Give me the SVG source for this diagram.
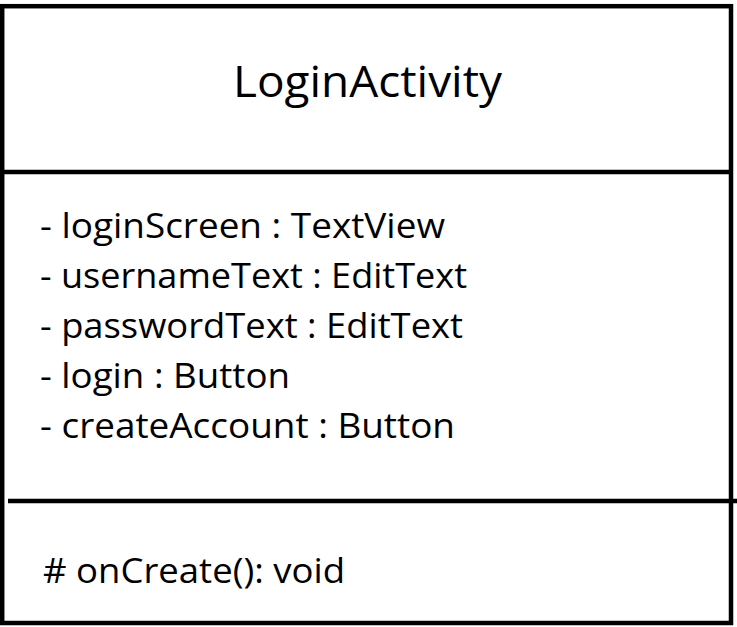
<svg xmlns="http://www.w3.org/2000/svg" width="737" height="627" viewBox="0 0 737 627">
  <style>
    .box { fill: #ffffff; stroke: #000000; stroke-width: 4.5; }
    .rule { stroke: #000000; stroke-width: 4.5; fill: none; }
    .title { font-family: "Open Sans", "Noto Sans", sans-serif; font-size: 43px; fill: #000000; }
    .member { font-family: "Open Sans", "Noto Sans", sans-serif; font-size: 35.5px; fill: #000000; }
  </style>
  <rect width="737" height="627" fill="#ffffff"/>
  <g id="LoginActivity">
    <rect class="box" x="2.2" y="6.2" width="728.8" height="616.8"/>
    <line class="rule" x1="2" y1="172" x2="731" y2="172"/>
    <line class="rule" x1="8" y1="501" x2="737" y2="501"/>
    <text class="title" x="233" y="97" textLength="269" lengthAdjust="spacingAndGlyphs">LoginActivity</text>
    <g id="attributes">
      <text class="member" x="40" y="238" textLength="405" lengthAdjust="spacingAndGlyphs">- loginScreen : TextView</text>
      <text class="member" x="40" y="288" textLength="427" lengthAdjust="spacingAndGlyphs">- usernameText : EditText</text>
      <text class="member" x="40" y="338" textLength="423" lengthAdjust="spacingAndGlyphs">- passwordText : EditText</text>
      <text class="member" x="40" y="388" textLength="250" lengthAdjust="spacingAndGlyphs">- login : Button</text>
      <text class="member" x="40" y="438" textLength="415" lengthAdjust="spacingAndGlyphs">- createAccount : Button</text>
    </g>
    <g id="operations">
      <text class="member" x="43" y="583" textLength="302" lengthAdjust="spacingAndGlyphs"># onCreate(): void</text>
    </g>
  </g>
</svg>
